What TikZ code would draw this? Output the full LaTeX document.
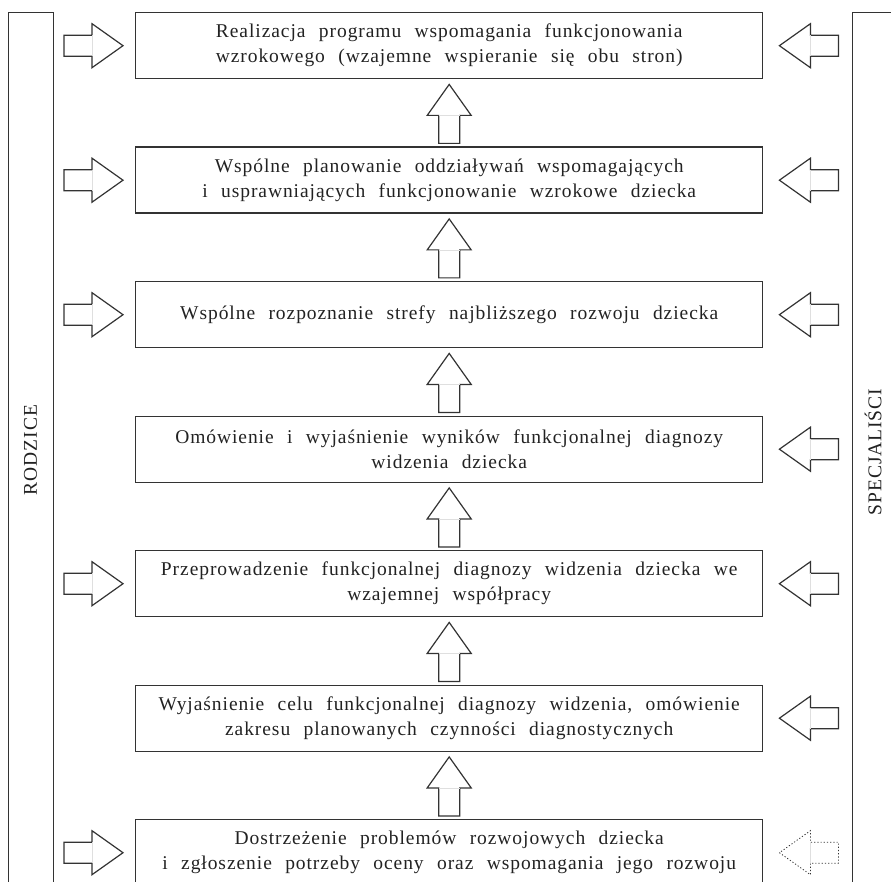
\documentclass[tikz,border=0pt]{standalone}
\usepackage{fontspec}
\setmainfont{Liberation Serif}[LetterSpace=4.8, WordSpace=2.3]
\definecolor{linec}{HTML}{333333}
\definecolor{textc}{HTML}{222222}
\newcommand\bodyfont{\fontsize{19.5pt}{25pt}\selectfont}
\begin{document}
\begin{tikzpicture}[x=1pt,y=1pt,
  box/.style={draw=linec, line width=1.4pt, minimum width=627pt, minimum height=66pt,
    inner sep=0pt, align=center, font=\bodyfont, text=textc, anchor=north west},
  colbox/.style={draw=linec, line width=1.4pt, minimum width=45pt, minimum height=900pt,
    anchor=north west, inner sep=0pt},
  lbl/.style={rotate=90, font=\bodyfont, text=textc},
  arrline/.style={draw=linec, line width=1.2pt, fill=white, line join=miter},
  joint/.style={draw=gray!25, line width=0.6pt},
  pics/barrow/.style={code={
    \path[arrline,#1] (0pt,0pt) -- (-31pt,22pt) -- (-31pt,10.5pt) -- (-59pt,10.5pt)
      -- (-59pt,-10.5pt) -- (-31pt,-10.5pt) -- (-31pt,-22pt) -- cycle;
    \path[joint] (-31pt,10.5pt) -- (-31pt,-10.5pt);
  }},
  pics/barrow/.default={},
]
\useasboundingbox (0,0) rectangle (891,-882);
\clip (0,0) rectangle (891,-882);

% side columns
\node[colbox] (left) at (8,-12) {};
\node[colbox] (right) at (852,-12) {};
\node[lbl] (rod) at (30.5,-450) {RODZICE};
\node[lbl] (spec) at (873,-452) {SPECJALIŚCI};

% boxes
\node[box] (b1) at (135,-12) {Realizacja programu wspomagania funkcjonowania\\wzrokowego (wzajemne wspieranie się obu stron)};
\node[box] (b2) at (135,-146.5) {Wspólne planowanie oddziaływań wspomagających\\i usprawniających funkcjonowanie wzrokowe dziecka};
\node[box] (b3) at (135,-281) {Wspólne rozpoznanie strefy najbliższego rozwoju dziecka};
\node[box] (b4) at (135,-415.5) {Omówienie i wyjaśnienie wyników funkcjonalnej diagnozy\\widzenia dziecka};
\node[box] (b5) at (135,-550) {Przeprowadzenie funkcjonalnej diagnozy widzenia dziecka we\\wzajemnej współpracy};
\node[box] (b6) at (135,-684.5) {Wyjaśnienie celu funkcjonalnej diagnozy widzenia, omówienie\\zakresu planowanych czynności diagnostycznych};
\node[box] (b7) at (135,-819) {Dostrzeżenie problemów rozwojowych dziecka\\i zgłoszenie potrzeby oceny oraz wspomagania jego rozwoju};

% up arrows between boxes
\foreach \a in {1,...,6} {
  \path ([yshift=-5pt]b\a.south) pic[rotate=90] {barrow};
}

% arrows from parents (left)
\foreach \a in {1,2,3,5,7} {
  \path ([xshift=-12pt]b\a.west) pic {barrow};
}

% arrows from specialists (right)
\foreach \a in {1,...,6} {
  \path ([xshift=16pt]b\a.east) pic[rotate=180] {barrow};
}
\path ([xshift=16pt]b7.east) pic[rotate=180] {barrow={dotted, line width=0.8pt}};
\end{tikzpicture}
\end{document}
